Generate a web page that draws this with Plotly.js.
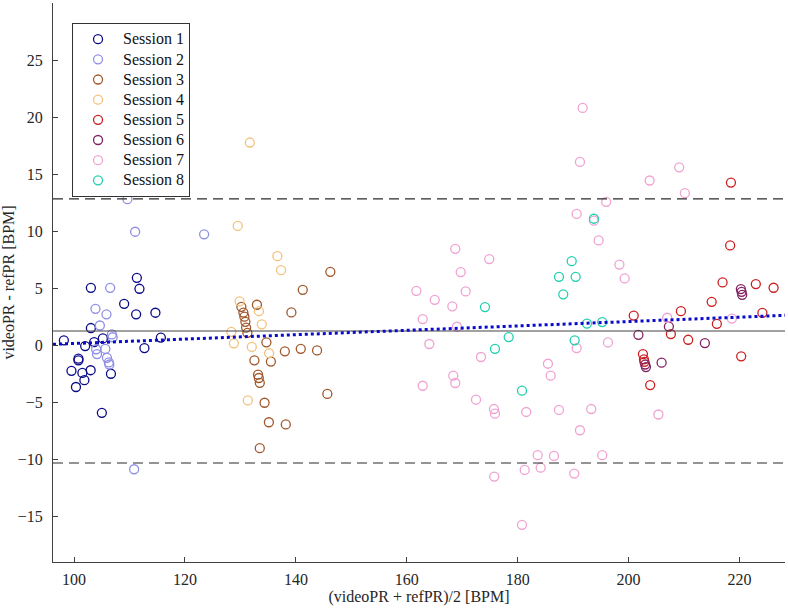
<!DOCTYPE html>
<html>
<head>
<meta charset="utf-8">
<script src="https://cdn.plot.ly/plotly-3.0.1.min.js"></script>
<style>html,body{margin:0;padding:0;background:#fff;}#chart{width:788px;height:610px;}</style>
</head>
<body>
<div id="chart"></div>
<script>
// Session data: mean (x) and difference (y) in BPM
var s1x = [111.32,103.03,111.79,109.03,111.19,114.67,103.03,98.16,103.62,105.19,102.0,115.65,112.69,100.79,100.79,99.53,101.5,102.99,101.86,100.34,106.65,105.01];
var s1y = [5.91,5.03,4.95,3.63,2.71,2.85,1.51,0.43,0.28,0.60,-0.07,0.67,-0.25,-1.18,-1.32,-2.24,-2.43,-2.19,-3.06,-3.66,-2.5,-5.92];

var s2x = [109.62,111.01,123.45,106.51,103.86,105.84,104.65,106.81,106.96,103.98,105.64,104.13,105.93,106.27,106.36,110.83];
var s2y = [12.80,9.95,9.72,5.03,3.19,2.71,1.73,0.95,0.70,-0.35,-0.32,-0.77,-1.10,-1.51,-1.69,-10.87];

var s3x = [146.21,141.24,132.97,139.19,130.17,130.53,130.71,130.89,131.02,131.25,134.68,132.52,135.49,138.01,140.88,143.82,133.18,133.31,133.49,145.67,134.35,135.13,138.18,133.49];
var s3y = [6.44,4.86,3.55,2.88,3.37,2.86,2.50,2.05,1.55,1.09,0.26,-1.32,-1.43,-0.53,-0.31,-0.45,-2.58,-2.87,-3.29,-4.27,-5.04,-6.75,-6.94,-9.02];

var s4x = [131.69,129.52,136.66,137.33,129.85,133.33,133.85,128.35,128.82,132.05,135.17,131.33];
var s4y = [17.77,10.46,7.81,6.58,3.85,2.99,1.83,1.18,0.17,-0.15,-0.70,-4.84];

var s5x = [218.45,218.31,216.94,222.94,226.14,214.98,209.43,200.92,224.12,215.91,207.62,210.74,202.58,202.76,202.85,220.30,203.89];
var s5y = [14.26,8.75,5.51,5.36,5.04,3.81,2.99,2.60,2.84,1.88,0.98,0.48,-0.77,-1.23,-1.45,-0.97,-3.49];

var s6x = [220.24,220.37,220.48,201.77,207.26,213.75,202.99,203.12,205.95];
var s6y = [4.92,4.68,4.42,0.91,1.64,0.19,-1.69,-1.91,-1.53];

var s7x = [191.71,191.22,195.96,190.63,194.59,168.74,174.87,169.72,161.72,165.03,170.62,168.21,162.87,169.05,164.06,173.38,190.63,196.27,168.38,168.74,162.87,185.45,185.94,172.48,175.72,175.90,181.54,187.44,193.26,191.22,183.60,186.54,195.24,184.14,181.26,175.77,190.20,180.77,198.34,199.28,209.12,203.79,210.15,206.96,218.62,205.37,193.74];
var s7y = [20.80,16.07,12.57,11.51,9.19,8.45,7.55,6.41,4.77,3.98,4.72,3.41,2.29,1.62,0.11,-1.03,-0.25,0.25,-2.67,-3.31,-3.55,-1.62,-2.67,-4.77,-5.59,-6.0,-5.85,-5.67,-5.59,-7.45,-9.64,-9.70,-9.64,-10.73,-10.93,-11.51,-11.25,-15.74,7.07,5.86,15.60,14.44,13.33,2.41,2.34,-6.07,10.92];

var s8x = [193.74,189.73,187.44,190.45,188.21,174.10,192.48,195.24,178.37,175.90,190.27,180.77];
var s8y = [11.09,7.37,6.0,6.0,4.46,3.35,1.90,2.03,0.72,-0.31,0.43,-3.98];

var sessionNames = ["Session 1","Session 2","Session 3","Session 4","Session 5","Session 6","Session 7","Session 8"];
var sessionColors = ["#0a0a86","#8f8fe6","#a0582c","#f2c27c","#cc1f1f","#822262","#f0a2d2","#20d0ae"];

// Bland-Altman statistics
var meanDiff = 1.25;
var upperLoA = 12.83;
var lowerLoA = -10.32;
var regIntercept = -1.77;
var regSlope = 0.01924;

var xRange = [96.2, 228.2];
var yRange = [-19, 30];
var xTicks = [100,120,140,160,180,200,220];
var yTicks = [-15,-10,-5,0,5,10,15,20,25];

var xs = [s1x,s2x,s3x,s4x,s5x,s6x,s7x,s8x];
var ys = [s1y,s2y,s3y,s4y,s5y,s6y,s7y,s8y];

var font = "Liberation Serif";
var tfont = {family: font, size: 16, color: "#262626"};
var traces = [];
for (var i = 0; i < 8; i++) {
  traces.push({
    type: "scatter", mode: "markers",
    name: '<span style="font-size:16px">' + sessionNames[i] + '</span>',
    x: xs[i], y: ys[i],
    marker: {symbol: "circle-open", size: 9, color: sessionColors[i], line: {width: 1.3, color: sessionColors[i]}}
  });
}
traces.push({type:"scatter", mode:"lines", x: xRange, y:[upperLoA, upperLoA], showlegend:false, hoverinfo:"skip",
  line:{color:"#2a2a2a", width:1.1, dash:"10px,6px"}});
traces.push({type:"scatter", mode:"lines", x: xRange, y:[lowerLoA, lowerLoA], showlegend:false, hoverinfo:"skip",
  line:{color:"#2a2a2a", width:1.1, dash:"10px,6px"}});
traces.push({type:"scatter", mode:"lines", x: xRange, y:[meanDiff, meanDiff], showlegend:false, hoverinfo:"skip",
  line:{color:"#444444", width:1.2}});
traces.push({type:"scatter", mode:"lines", x: xRange,
  y:[regIntercept + regSlope*xRange[0], regIntercept + regSlope*xRange[1]], showlegend:false, hoverinfo:"skip",
  line:{color:"#0a0acc", width:3, dash:"dot"}});

var layout = {
  width: 788, height: 610,
  margin: {l:53, r:3, t:3, b:48},
  paper_bgcolor: "#ffffff", plot_bgcolor: "#ffffff",
  font: tfont,
  showlegend: true,
  legend: {x: 0.026, y: 0.964, xanchor: "left", yanchor: "top", bgcolor: "#ffffff",
    bordercolor: "#333333", borderwidth: 1, itemwidth: 40,
    font: {family: font, size: 13.2, color: "#111111"}, tracegroupgap: 0},
  xaxis: {range: xRange, tickvals: xTicks, ticks: "inside", ticklen: 5, tickcolor: "#404040",
    showline: true, linecolor: "#404040", linewidth: 1, showgrid: false, zeroline: false,
    tickfont: tfont, ticklabelstandoff: 3, automargin: false,
    title: {text: "(videoPR + refPR)/2 [BPM]", standoff: 3, font: tfont}},
  yaxis: {range: yRange, tickvals: yTicks, ticks: "inside", ticklen: 5, tickcolor: "#404040",
    showline: true, linecolor: "#404040", linewidth: 1, showgrid: false, zeroline: false,
    tickfont: tfont, ticklabelstandoff: 6, automargin: false,
    title: {text: "videoPR - refPR [BPM]", standoff: 0, font: tfont}}
};

Plotly.newPlot("chart", traces, layout, {displayModeBar: false, staticPlot: true});
</script>
</body>
</html>
